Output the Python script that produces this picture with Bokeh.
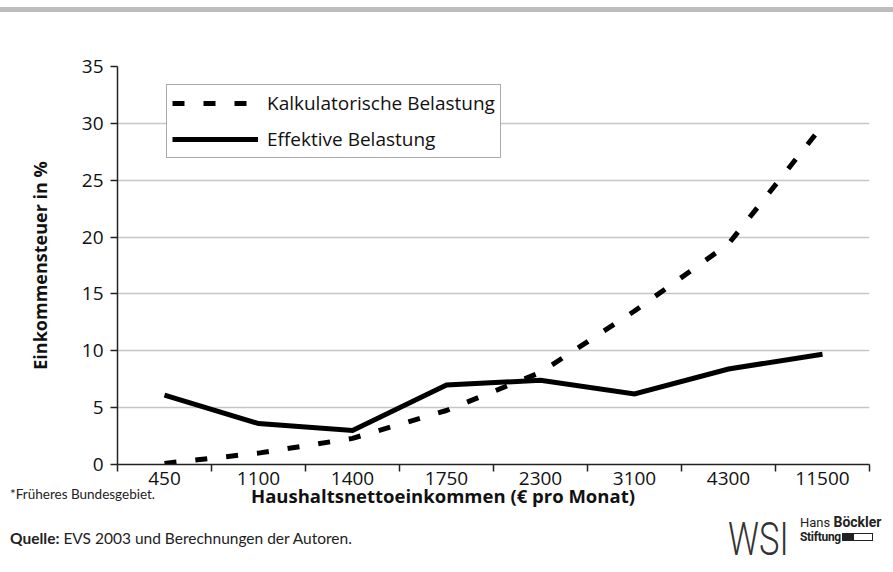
from bokeh.plotting import figure
from bokeh.models import Range1d, FixedTicker, Legend, LegendItem, Div
from bokeh.layouts import column
from bokeh.embed import file_html
from bokeh.resources import INLINE

# ---- data ----
categories = ["450", "1100", "1400", "1750", "2300", "3100", "4300", "11500"]
kalkulatorisch = [0.1, 1.0, 2.3, 4.75, 8.1, 13.5, 19.4, 29.8]
effektiv = [6.1, 3.6, 3.0, 7.0, 7.4, 6.2, 8.4, 9.7]
y_ticks = [0, 5, 10, 15, 20, 25, 30, 35]
series_names = ["Kalkulatorische Belastung", "Effektive Belastung"]
x_title = "Haushaltsnettoeinkommen (\u20ac pro Monat)"
y_title = "Einkommensteuer in %"
footnote = "*Fr\u00fcheres Bundesgebiet."
source_bold = "Quelle:"
source_text = "EVS 2003 und Berechnungen der Autoren."

FONT = "Open Sans"
W = 893

xs = [i + 0.5 for i in range(len(categories))]
bounds = list(range(len(categories) + 1))

# ---- top grey bar ----
bar = Div(text="", width=W, height=5, margin=(7, 0, 0, 0),
          styles={"background-color": "#bcbdbf"})

# ---- main chart ----
p = figure(width=W, height=482, output_backend="svg", toolbar_location=None,
           x_range=Range1d(0, len(categories)), y_range=Range1d(0, 35),
           min_border_left=117, min_border_right=24, min_border_top=54,
           min_border_bottom=30)
p.outline_line_color = None
p.border_fill_color = "white"

r_k = p.line(xs, kalkulatorisch, line_color="black", line_width=5,
             line_dash="12 19", line_cap="butt")
r_e = p.line(xs, effektiv, line_color="black", line_width=5, line_join="miter")

xa = p.xaxis[0]
xa.ticker = FixedTicker(ticks=xs, minor_ticks=bounds)
xa.major_label_overrides = {x: c for x, c in zip(xs, categories)}
xa.major_tick_line_color = None
xa.major_tick_out = 0
xa.major_tick_in = 0
xa.minor_tick_line_color = "#222222"
xa.minor_tick_line_width = 1.5
xa.minor_tick_out = 7
xa.minor_tick_in = 0
xa.axis_line_color = "#222222"
xa.axis_line_width = 1.5
xa.major_label_text_font = FONT
xa.major_label_text_font_size = "19px"
xa.major_label_text_color = "#111111"
xa.major_label_standoff = 0

ya = p.yaxis[0]
ya.ticker = FixedTicker(ticks=y_ticks)
ya.major_tick_out = 7
ya.major_tick_in = 0
ya.minor_tick_line_color = None
ya.major_tick_line_color = "#222222"
ya.major_tick_line_width = 1.5
ya.axis_line_color = "#222222"
ya.axis_line_width = 1.5
ya.major_label_text_font = FONT
ya.major_label_text_font_size = "19px"
ya.major_label_text_color = "#111111"
ya.major_label_standoff = 7
ya.axis_label = y_title
ya.axis_label_text_font = FONT
ya.axis_label_text_font_style = "bold"
ya.axis_label_text_font_size = "18px"
ya.axis_label_text_color = "#111111"
ya.axis_label_standoff = 27

p.xgrid.grid_line_color = None
p.ygrid.grid_line_color = "#c6c6c6"
p.ygrid.grid_line_width = 1.5

legend = Legend(items=[LegendItem(label=series_names[0], renderers=[r_k]),
                       LegendItem(label=series_names[1], renderers=[r_e])],
                location=(49, 306), orientation="vertical")
legend.border_line_color = "#555555"
legend.border_line_width = 1.5
legend.background_fill_alpha = 1
legend.label_text_font = FONT
legend.label_text_font_size = "19px"
legend.label_text_color = "#111111"
legend.glyph_width = 86
legend.glyph_height = 26
legend.label_height = 26
legend.spacing = 10
legend.padding = 5
legend.label_standoff = 9
legend.margin = 0
p.add_layout(legend, "center")

# ---- footer (x title, notes, logo) as positioned HTML ----
footer_html = f"""
<div style="position:relative;width:{W}px;height:92px;overflow:hidden;">
  <div style="position:absolute;left:443px;top:4px;transform:translateX(-50%);white-space:nowrap;font:bold 18.5px/24px 'Open Sans';color:#111;">{x_title}</div>
  <div style="position:absolute;left:10px;top:5px;white-space:nowrap;font:13.5px/18px Lato;color:#222;">{footnote}</div>
  <div style="position:absolute;left:10px;top:49px;white-space:nowrap;font:15.5px/18px Lato;color:#222;"><b>{source_bold}</b> {source_text}</div>
  <div style="position:absolute;left:728px;top:36px;white-space:nowrap;font:300 46px/46px Roboto;color:#333;transform:scaleX(0.75);transform-origin:left top;">WSI</div>
  <div style="position:absolute;left:800px;top:34px;white-space:nowrap;font:13px/16px Roboto;color:#222;">Hans <b style="font-size:14px;">B\u00f6ckler</b></div>
  <div style="position:absolute;left:800px;top:49px;white-space:nowrap;font:bold 12px/16px Roboto;letter-spacing:-0.3px;color:#222;">Stiftung</div>
  <div style="position:absolute;left:842px;top:53px;width:11px;height:8px;background:#222;"></div>
  <div style="position:absolute;left:853px;top:53px;width:20px;height:8px;border:1px solid #222;box-sizing:border-box;background:#fff;"></div>
</div>
"""
footer = Div(text=footer_html, width=W, height=92, margin=(-14, 0, 0, 0))

layout = column(bar, p, footer, spacing=0)

open("out.html", "w").write(file_html(layout, INLINE))
